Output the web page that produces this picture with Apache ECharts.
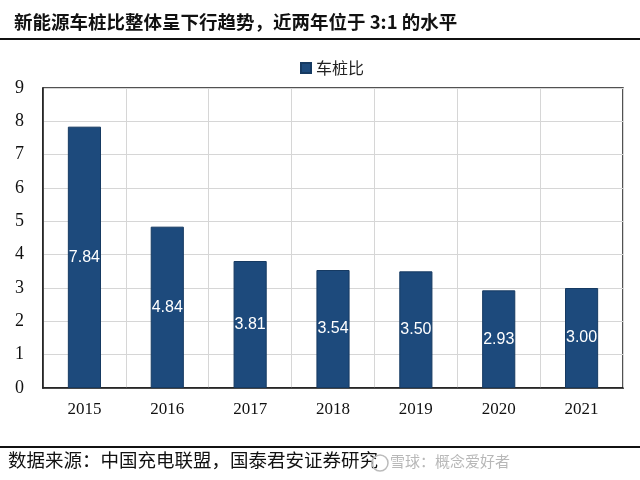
<!DOCTYPE html>
<html><head><meta charset="utf-8">
<script src="https://cdn.jsdelivr.net/npm/echarts@6/dist/echarts.min.js"></script>
<style>html,body{margin:0;padding:0;background:#fff}#c{width:640px;height:480px}</style>
</head><body><div id="c"></div>
<script>
const categories = ['2015','2016','2017','2018','2019','2020','2021'];
const ratioValues = [7.84, 4.84, 3.81, 3.54, 3.50, 2.93, 3.00];
const seriesName = '车桩比';
const yMin = 0, yMax = 9, yInterval = 1;
const titleText = '新能源车桩比整体呈下行趋势，近两年位于 3:1 的水平';
const sourceText = '数据来源：中国充电联盟，国泰君安证券研究';
const watermarkText = '雪球：概念爱好者';

const chart = echarts.init(document.getElementById('c'), null, {renderer:'canvas'});
chart.setOption({
  animation:false,
  backgroundColor:'#fff',
  title:{text:titleText,left:9,top:8,textStyle:{fontFamily:'Noto Sans CJK SC',fontWeight:'bold',fontSize:18.5,color:'#111'}},
  legend:{data:[seriesName],top:55,left:295,itemWidth:10,itemHeight:10,itemGap:5,
    textStyle:{fontFamily:'Noto Sans CJK SC',fontSize:16,color:'#222'},icon:'rect'},
  grid:{left:43,right:17,top:88,bottom:92,show:true,borderColor:'#1a1a1a',borderWidth:1.5,backgroundColor:'rgba(0,0,0,0)'},
  xAxis:{type:'category',data:categories,
    axisLine:{lineStyle:{color:'#1a1a1a',width:1.5}},axisTick:{show:false},
    splitLine:{show:true,lineStyle:{color:'#d6d6d6',width:1}},
    axisLabel:{fontFamily:'Liberation Serif',fontSize:17,color:'#111',margin:13}},
  yAxis:{type:'value',min:yMin,max:yMax,interval:yInterval,
    axisLine:{show:true,lineStyle:{color:'#1a1a1a',width:1.5}},axisTick:{show:false},
    splitLine:{lineStyle:{color:'#d6d6d6',width:1}},
    axisLabel:{fontFamily:'Liberation Serif',fontSize:18,color:'#111',margin:19}},
  series:[{name:seriesName,type:'bar',data:ratioValues,barWidth:'40%',
    itemStyle:{color:'#1d4a7c',borderColor:'#163a62',borderWidth:1},
    label:{show:true,position:'inside',formatter:p=>p.value.toFixed(2),
      fontFamily:'Liberation Sans',fontSize:16,color:'#fff'}}],
  graphic:[
    {type:'rect',shape:{x:0,y:38,width:640,height:2},style:{fill:'#111'}},
    {type:'rect',shape:{x:0,y:446,width:640,height:2},style:{fill:'#111'}},
    {type:'text',left:8,top:451,style:{text:sourceText,font:'18.5px "Noto Sans CJK SC"',fill:'#111'}},
    {type:'circle',shape:{cx:380,cy:463,r:8},style:{fill:'none',stroke:'#bbb',lineWidth:1.5}},
    {type:'text',left:390,top:454,style:{text:watermarkText,font:'15px "Noto Sans CJK SC"',fill:'#b8b8b8'}}
  ]
});
</script></body></html>
